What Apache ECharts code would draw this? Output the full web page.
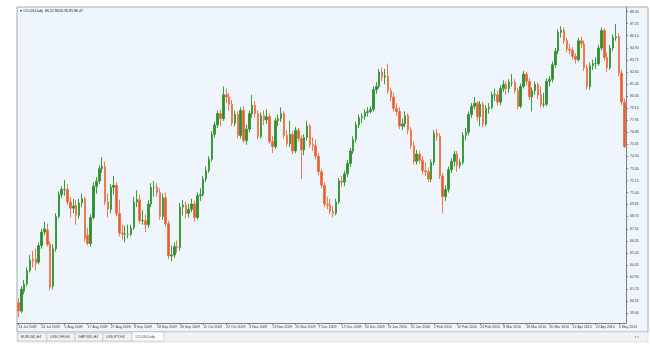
<!DOCTYPE html>
<html><head><meta charset="utf-8">
<script src="https://cdn.jsdelivr.net/npm/echarts@6/dist/echarts.min.js"></script>
<style>html,body{margin:0;padding:0;background:#fff;}#c{width:650px;height:349px;}</style>
</head><body><div id="c"></div>
<script>
const categories = [
"2009-07-14","2009-07-15","2009-07-16","2009-07-17","2009-07-20","2009-07-21","2009-07-22","2009-07-23","2009-07-24","2009-07-27","2009-07-28","2009-07-29","2009-07-30","2009-07-31",
"2009-08-03","2009-08-04","2009-08-05","2009-08-06","2009-08-07","2009-08-10","2009-08-11","2009-08-12","2009-08-13","2009-08-14","2009-08-17","2009-08-18","2009-08-19","2009-08-20","2009-08-21","2009-08-24","2009-08-25","2009-08-26","2009-08-27","2009-08-28","2009-08-31",
"2009-09-01","2009-09-02","2009-09-03","2009-09-04","2009-09-07","2009-09-08","2009-09-09","2009-09-10","2009-09-11","2009-09-14","2009-09-15","2009-09-16","2009-09-17","2009-09-18","2009-09-21","2009-09-22","2009-09-23","2009-09-24","2009-09-25","2009-09-28","2009-09-29","2009-09-30",
"2009-10-01","2009-10-02","2009-10-05","2009-10-06","2009-10-07","2009-10-08","2009-10-09","2009-10-12","2009-10-13","2009-10-14","2009-10-15","2009-10-16","2009-10-19","2009-10-20","2009-10-21","2009-10-22","2009-10-23","2009-10-26","2009-10-27","2009-10-28","2009-10-29","2009-10-30",
"2009-11-02","2009-11-03","2009-11-04","2009-11-05","2009-11-06","2009-11-09","2009-11-10","2009-11-11","2009-11-12","2009-11-13","2009-11-16","2009-11-17","2009-11-18","2009-11-19","2009-11-20","2009-11-23","2009-11-24","2009-11-25","2009-11-26","2009-11-27","2009-11-30",
"2009-12-01","2009-12-02","2009-12-03","2009-12-04","2009-12-07","2009-12-08","2009-12-09","2009-12-10","2009-12-11","2009-12-14","2009-12-15","2009-12-16","2009-12-17","2009-12-18","2009-12-21","2009-12-22","2009-12-23","2009-12-24","2009-12-28","2009-12-29","2009-12-30","2009-12-31",
"2010-01-01","2010-01-04","2010-01-05","2010-01-06","2010-01-07","2010-01-08","2010-01-11","2010-01-12","2010-01-13","2010-01-14","2010-01-15","2010-01-18","2010-01-19","2010-01-20","2010-01-21","2010-01-22","2010-01-25","2010-01-26","2010-01-27","2010-01-28","2010-01-29",
"2010-02-01","2010-02-02","2010-02-03","2010-02-04","2010-02-05","2010-02-08","2010-02-09","2010-02-10","2010-02-11","2010-02-12","2010-02-15","2010-02-16","2010-02-17","2010-02-18","2010-02-19","2010-02-22","2010-02-23","2010-02-24","2010-02-25","2010-02-26",
"2010-03-01","2010-03-02","2010-03-03","2010-03-04","2010-03-05","2010-03-08","2010-03-09","2010-03-10","2010-03-11","2010-03-12","2010-03-15","2010-03-16","2010-03-17","2010-03-18","2010-03-19","2010-03-22","2010-03-23","2010-03-24","2010-03-25","2010-03-26","2010-03-29","2010-03-30","2010-03-31",
"2010-04-01","2010-04-05","2010-04-06","2010-04-07","2010-04-08","2010-04-09","2010-04-12","2010-04-13","2010-04-14","2010-04-15","2010-04-16","2010-04-19","2010-04-20","2010-04-21","2010-04-22","2010-04-23","2010-04-26","2010-04-27","2010-04-28","2010-04-29","2010-04-30",
"2010-05-03","2010-05-04","2010-05-05","2010-05-06"];

const dateLabels = ["14 Jul 2009","24 Jul 2009","5 Aug 2009","17 Aug 2009","27 Aug 2009","8 Sep 2009","18 Sep 2009","30 Sep 2009","12 Oct 2009","22 Oct 2009","3 Nov 2009","13 Nov 2009","25 Nov 2009","7 Dec 2009","17 Dec 2009","30 Dec 2009","11 Jan 2010","21 Jan 2010","2 Feb 2010","12 Feb 2010","24 Feb 2010","8 Mar 2010","18 Mar 2010","30 Mar 2010","12 Apr 2010","22 Apr 2010","4 May 2010"];

const priceLabels = [88.40,87.25,86.10,84.90,83.75,82.60,81.45,80.30,79.10,77.95,76.80,75.65,74.50,73.30,72.15,71.00,69.85,68.70,67.50,66.35,65.20,64.05,62.90,61.70,60.55,59.40];

const opens = [60.4,59.6,61.5,62.2,63.5,64.6,64.6,64.3,65.9,67.2,67.4,66.0,62.0,65.6,68.7,70.8,71.3,71.3,70.1,69.5,69.8,68.8,70.0,70.4,66.9,66.1,68.6,71.6,72.1,73.3,73.5,70.1,69.4,71.5,71.7,69.0,67.1,67.0,67.0,67.0,67.6,70.1,70.3,68.3,68.3,67.9,69.9,71.5,71.5,71.0,68.7,70.5,68.0,64.9,65.0,65.8,65.7,69.6,69.8,69.0,69.4,69.9,68.6,70.7,70.8,72.3,73.1,74.2,76.6,77.5,78.6,78.1,80.4,80.2,79.5,77.7,78.5,76.5,78.9,76.0,77.1,78.6,79.4,78.6,76.4,78.4,78.0,78.3,75.9,75.4,77.9,78.1,78.6,76.5,75.7,76.6,75.0,77.0,76.2,75.1,76.3,77.4,75.6,75.5,74.5,73.0,71.7,69.9,69.8,69.2,69.0,70.1,72.1,72.0,72.8,73.8,75.0,76.1,77.5,78.2,78.3,78.7,78.8,79.0,80.9,81.2,82.6,82.1,82.2,80.8,80.2,79.1,78.8,77.4,77.6,78.4,77.0,75.5,74.0,74.7,74.1,73.1,73.0,72.3,73.9,76.7,76.4,72.6,70.6,71.3,73.2,74.0,74.7,73.6,73.9,76.5,76.8,78.5,79.3,79.6,78.3,79.5,77.6,79.1,79.2,80.4,80.4,79.7,81.0,81.4,81.0,81.6,81.6,80.8,79.3,81.2,82.4,81.7,80.2,80.8,81.4,80.4,79.5,79.5,81.7,81.9,83.3,84.6,86.4,86.6,85.6,84.8,84.7,84.1,83.8,85.6,85.3,83.0,81.2,83.2,83.4,83.4,84.9,86.6,84.0,83.0,84.9,85.9,86.0,82.5,79.7];
const highs = [60.8,62.0,62.6,63.8,65.0,65.4,65.6,66.2,67.5,68.2,68.0,66.3,66.0,69.0,71.1,71.6,72.2,71.8,70.6,70.4,70.3,70.4,70.9,70.6,67.6,68.9,72.0,72.5,73.6,74.4,74.0,70.9,71.8,72.6,72.0,70.3,67.9,67.8,67.9,67.9,70.6,71.2,70.8,69.3,68.9,70.3,71.9,72.1,71.9,71.4,70.9,71.0,68.3,65.9,66.2,66.4,70.0,70.3,70.1,69.9,70.4,70.2,71.0,71.4,72.6,73.5,74.5,76.9,77.8,78.9,79.0,81.2,81.0,80.6,79.9,78.9,78.8,79.2,79.3,77.5,78.9,80.4,79.8,78.9,78.7,78.9,79.0,78.6,76.4,78.2,78.5,79.2,78.8,77.0,77.9,76.9,77.3,77.2,76.5,76.6,77.9,77.6,76.3,76.1,74.8,73.3,72.0,70.6,70.4,69.7,70.4,72.4,72.6,73.1,74.1,75.3,76.4,77.8,78.5,78.6,79.0,79.2,79.3,81.2,81.6,82.9,83.0,82.9,83.4,81.1,80.6,79.6,79.2,78.1,78.8,78.6,77.3,75.9,75.1,75.0,74.5,73.9,73.4,74.2,77.0,77.1,76.7,72.9,71.7,73.5,74.3,75.0,75.0,74.2,76.8,77.2,78.8,79.6,80.2,79.8,79.8,79.7,79.4,79.6,80.7,81.0,80.8,81.3,81.8,81.7,81.9,82.4,81.9,81.1,81.5,82.7,82.6,82.0,81.1,81.7,81.6,81.2,80.6,82.0,82.2,83.6,84.9,86.7,87.0,86.9,85.9,85.3,85.0,84.4,85.9,86.0,85.6,83.3,83.5,83.8,84.0,85.2,86.9,86.8,84.5,85.2,86.2,87.2,86.3,82.8,80.0];
const lows = [59.0,59.4,61.2,62.0,63.3,63.8,63.5,64.1,65.6,66.9,65.8,61.6,61.7,65.3,68.5,70.5,70.7,69.8,68.6,69.0,67.9,68.5,69.6,66.3,65.9,65.8,68.4,70.9,71.8,72.9,69.8,68.6,69.0,70.8,68.7,66.8,66.5,66.2,66.6,66.8,67.4,69.6,68.0,67.9,67.2,67.6,69.6,70.6,70.6,68.4,68.4,67.7,64.6,64.4,64.7,65.2,65.4,68.8,68.5,68.6,69.1,68.2,68.4,70.2,70.6,72.0,72.9,74.0,76.3,77.2,77.4,77.9,79.6,78.9,77.4,77.4,76.2,76.2,75.8,75.6,76.8,78.2,78.2,76.1,76.2,77.5,77.6,75.7,74.8,75.2,77.4,77.8,76.2,75.4,75.4,74.7,74.8,75.9,72.3,74.6,76.0,75.3,75.0,74.2,72.7,71.4,69.6,69.4,68.9,68.6,68.8,69.9,71.5,71.6,72.5,73.5,74.7,75.8,77.2,77.7,78.0,78.3,78.6,78.8,80.5,81.0,81.7,81.4,80.5,79.8,78.8,78.4,77.1,77.0,77.3,76.6,75.2,73.7,73.7,73.8,72.8,72.6,72.0,72.0,73.6,76.0,72.3,69.0,70.2,71.0,72.9,73.5,73.0,73.3,73.7,76.0,76.5,78.2,79.0,77.9,77.4,77.3,77.4,78.6,79.0,79.8,79.4,79.4,80.7,80.4,80.6,81.2,80.5,79.0,79.1,81.0,81.3,79.9,78.8,80.4,80.0,79.2,79.2,79.3,81.2,81.6,83.0,84.3,85.9,85.3,84.5,84.3,83.8,83.4,83.6,84.9,82.7,80.9,80.9,82.8,82.9,83.2,84.7,83.7,82.6,82.8,84.6,85.6,82.2,79.4,75.3];
const closes = [59.6,61.7,62.2,63.5,64.5,64.4,64.2,65.9,67.2,67.5,66.0,61.9,65.6,68.7,70.8,71.3,71.3,70.1,69.5,69.7,68.8,70.0,70.4,66.6,66.1,68.6,71.6,72.1,73.3,73.5,70.1,69.4,71.5,71.7,69.0,67.1,67.0,67.0,67.0,67.6,70.1,70.3,68.3,68.3,67.9,69.9,71.5,71.5,71.0,68.7,70.5,68.0,64.9,65.0,65.8,65.7,69.6,69.8,69.0,69.4,69.9,68.6,70.7,70.8,72.3,73.1,74.2,76.6,77.5,78.6,78.1,80.4,80.2,79.5,77.7,78.5,76.5,78.9,76.0,77.1,78.6,79.4,78.6,76.4,78.4,78.0,78.3,75.9,75.4,77.9,78.1,78.6,76.5,75.7,76.6,75.0,77.0,76.2,75.1,76.3,77.4,75.6,75.5,74.5,73.0,71.7,69.9,69.8,69.2,69.0,70.1,72.1,72.0,72.8,73.8,75.0,76.1,77.5,78.2,78.3,78.7,78.8,79.0,80.9,81.2,82.6,82.1,82.2,80.8,80.2,79.1,78.8,77.4,77.6,78.4,77.0,75.5,74.0,74.7,74.1,73.1,73.0,72.3,73.9,76.7,76.4,72.6,70.6,71.3,73.2,74.0,74.7,73.6,73.9,76.5,76.8,78.5,79.3,79.6,78.3,79.5,77.6,79.1,79.2,80.4,80.4,79.7,81.0,81.4,81.0,81.6,81.6,80.8,79.3,81.2,82.4,81.7,80.2,80.8,81.4,80.4,79.5,79.5,81.7,81.9,83.3,84.6,86.4,86.6,85.6,84.8,84.7,84.1,83.8,85.6,85.3,83.0,81.2,83.2,83.4,83.4,84.9,86.6,84.0,83.0,84.9,85.9,86.0,82.5,79.7,75.4];

const candles = categories.map((d, i) => [opens[i], closes[i], lows[i], highs[i]]);

const chart = echarts.init(document.getElementById('c'), null, {renderer: 'canvas'});
const tabs = ["EURUSD,H4","USDCHF,H4","GBPUSD,H4","USDJPY,H4","#CLUS,Daily"];
const tabX = [18, 47, 75, 103, 132];
const tabW = [29, 28, 28, 29, 32];
const small = 3.5;
const graphics = [
  {type:'rect', z:-10, shape:{x:17, y:7, width:631, height:325}, style:{fill:'#EEF5FC', stroke:'#A9A9A9', lineWidth:1}},
  {type:'rect', z:-9, shape:{x:17, y:332, width:631, height:10}, style:{fill:'#F2F2F2', stroke:'#C8C8C8', lineWidth:0.5}}
];
tabs.forEach((t, k) => {
  const active = k === tabs.length - 1;
  graphics.push({type:'rect', z:-8, shape:{x:tabX[k], y: active ? 332 : 333, width:tabW[k], height: active ? 9 : 8},
    style:{fill: active ? '#FFFFFF' : '#F2F2F2', stroke:'#B0B0B0', lineWidth:0.5}});
  graphics.push({type:'text', z:5, left: tabX[k] + 3, top: 335, style:{text:t, fontSize:small, fill:'#444', fontFamily:'Liberation Sans'}});
});
graphics.push({type:'text', z:5, left: 20, top: 9, style:{text:'\u25BE #CLUS,Daily  86.22 86.65 85.85 86.47', fontSize:small, fill:'#222', fontFamily:'Liberation Sans'}});
graphics.push({type:'text', z:5, left: 634, top: 335, style:{text:'\u25C2 \u25B8', fontSize:4, fill:'#999', fontFamily:'DejaVu Sans'}});

chart.setOption({
  animation: false,
  backgroundColor: '#FFFFFF',
  graphic: graphics,
  grid: {left: 17, right: 24, top: 7, bottom: 26, containLabel: false},
  xAxis: {
    type: 'category', data: categories, boundaryGap: true,
    axisLine: {show: true, lineStyle: {color: '#7F7F7F', width: 1}},
    axisTick: {show: true, interval: 7, length: 2, lineStyle: {color: '#7F7F7F'}, alignWithLabel: true},
    axisLabel: {show: true, interval: 7, fontSize: small, color: '#444', align: 'left', margin: 2.5,
      fontFamily: 'Liberation Sans', formatter: (v, i) => dateLabels[Math.round(i / 8)] || ''},
    splitLine: {show: false}
  },
  yAxis: {
    type: 'value', position: 'right', scale: true, min: 58.45, max: 88.85,
    axisLine: {show: true, lineStyle: {color: '#7F7F7F', width: 1}},
    axisTick: {show: true, length: 2, customValues: priceLabels, lineStyle: {color: '#7F7F7F'}},
    axisLabel: {show: true, customValues: priceLabels, fontSize: small, color: '#444', margin: 4,
      fontFamily: 'Liberation Sans', formatter: v => v.toFixed(2)},
    splitLine: {show: false}
  },
  series: [{
    type: 'candlestick', data: candles, barWidth: 2,
    itemStyle: {color: '#2E8B2E', color0: '#EA5A2B', borderColor: '#3F9A3F', borderColor0: '#EE7A52', borderWidth: 1}
  }]
});
</script></body></html>
